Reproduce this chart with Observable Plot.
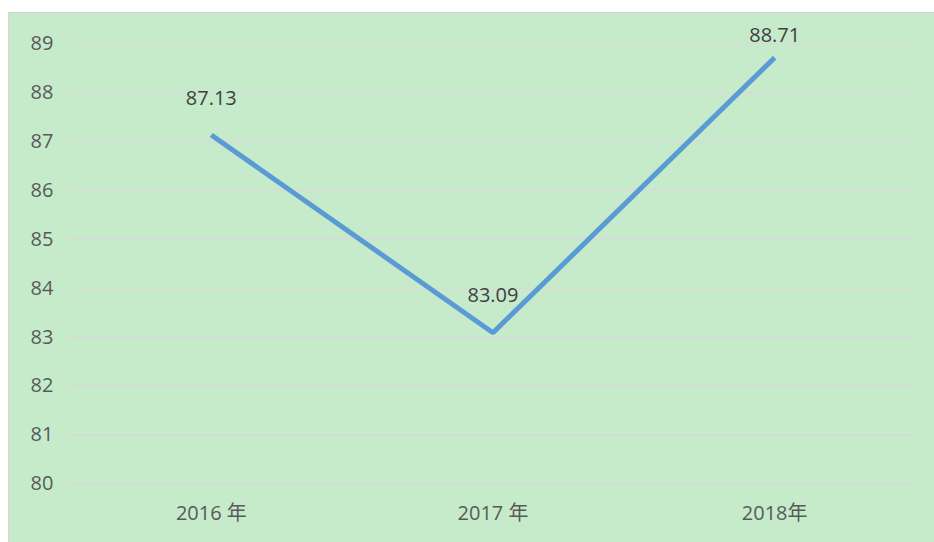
<!DOCTYPE html>
<html>
<head>
<meta charset="utf-8">
<script src="https://cdn.jsdelivr.net/npm/d3@7"></script>
<script src="https://cdn.jsdelivr.net/npm/@observablehq/plot@0.6"></script>
<style>
  html, body { margin: 0; padding: 0; background: #ffffff; }
  #panel {
    position: absolute; left: 8px; top: 12px; width: 926px; height: 530px;
    background: #c6ebcb; border-top: 1px solid #d4d4d4; border-left: 1px solid #d4d4d4;
    box-sizing: border-box;
  }
  #panel svg { position: absolute; left: -1px; top: -1px; }
</style>
</head>
<body>
<div id="panel"></div>
<script>
const categories = ["2016 年", "2017 年", "2018年"];
const values = [87.13, 83.09, 88.71];
const yTicks = [80, 81, 82, 83, 84, 85, 86, 87, 88, 89];

const data = categories.map((c, i) => ({category: c, value: values[i]}));
const font = "'Open Sans', 'Noto Sans CJK SC', sans-serif";

const chart = Plot.plot({
  width: 926,
  height: 530,
  marginLeft: 62,
  marginRight: 18,
  marginTop: 31,
  marginBottom: 58,
  style: {background: "transparent", fontFamily: font, overflow: "visible"},
  x: {type: "point", domain: categories, padding: 0.5, label: null},
  y: {domain: [80, 89], label: null},
  marks: [
    Plot.gridY(yTicks, {stroke: "#d9d9d9", strokeOpacity: 1, strokeWidth: 1.5}),
    Plot.axisY(yTicks, {tickSize: 0, tickPadding: 17, fontSize: 20, fill: "#595959", tickFormat: d => String(d), label: null}),
    Plot.axisX({tickSize: 0, tickPadding: 22, fontSize: 20, fill: "#595959", label: null}),
    Plot.line(data, {x: "category", y: "value", stroke: "#5b9bd5", strokeWidth: 5, strokeLinejoin: "miter", strokeLinecap: "butt"}),
    Plot.text(data, {x: "category", y: d => Math.min(d.value + 0.75, 89.17), text: d => d.value.toFixed(2), fontSize: 20, fill: "#404040"})
  ]
});
document.getElementById("panel").appendChild(chart);
</script>
</body>
</html>
